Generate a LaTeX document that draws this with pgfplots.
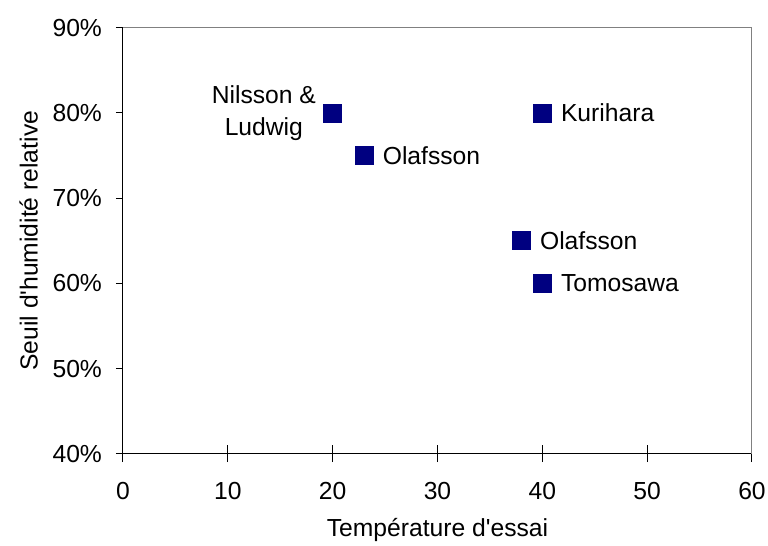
\documentclass[border=0pt]{standalone}
\usepackage{fontspec}
\setmainfont{Liberation Sans}
\usepackage{pgfplots}
\pgfplotsset{compat=1.18}
\definecolor{navy}{HTML}{000080}
\definecolor{boxgray}{HTML}{808080}
\begin{document}
\begin{tikzpicture}[font=\fontsize{18.5}{22}\selectfont]
\begin{axis}[
  at={(0,0)}, anchor=south west,
  scale only axis, width=471.75pt, height=319.5pt,
  xmin=0, xmax=60, ymin=40, ymax=90,
  xtick={0,10,...,60}, ytick={40,50,...,90},
  axis lines=left,
  axis line style={-, black, line width=0.75pt},
  xtick align=center, ytick align=outside,
  xtick style={black, line width=0.75pt, /pgfplots/major tick length=12.75pt},
  ytick style={black, line width=0.75pt, /pgfplots/major tick length=5.25pt},
  /pgf/number format/assume math mode=true,
  tick label style={font=\fontsize{18.5}{22}\selectfont},
  label style={font=\fontsize{18.5}{22}\selectfont},
  xticklabel shift=16pt,
  yticklabel shift=8pt,
  yticklabel={\pgfmathprintnumber{\tick}\%},
  xlabel={Température d\textquotesingle essai},
  ylabel={Seuil d\textquotesingle humidité relative},
  xlabel style={at={(0.5,-0.179)}, anchor=center},
  ylabel style={at={(-0.150,0.5)}, anchor=center},
  clip=false,
]
\draw[boxgray, line width=0.75pt] (rel axis cs:0,1) -- (rel axis cs:1,1) -- (rel axis cs:1,0);
\addplot[only marks, mark=square*, mark size=6.75pt, color=navy,
  nodes near coords, point meta=explicit symbolic,
  nodes near coords style={anchor=west, xshift=10.5pt, text=black, font=\fontsize{18.5}{22}\selectfont}]
  coordinates {
    (23,75) [Olafsson]
    (40,80) [Kurihara]
    (38,65) [Olafsson]
    (40,60) [Tomosawa]
  };
\addplot[only marks, mark=square*, mark size=6.75pt, color=navy,
  nodes near coords, point meta=explicit symbolic,
  nodes near coords style={anchor=east, xshift=-9pt, align=center, text=black, font=\fontsize{18.5}{24}\selectfont}]
  coordinates {
    (20,80) [{Nilsson \&\\Ludwig}]
  };
\end{axis}
\pgfresetboundingbox
\path (-92.25pt,-69.2pt) rectangle (483.75pt,340.3pt);
\end{tikzpicture}
\end{document}
